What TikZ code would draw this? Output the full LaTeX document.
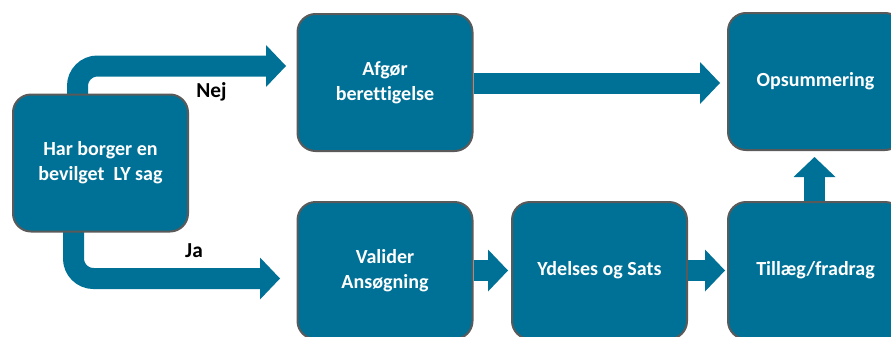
\documentclass[tikz,border=0pt]{standalone}
\usepackage{fontspec}
\setmainfont{Carlito}[Ligatures=NoCommon]
\usetikzlibrary{arrows.meta,calc}
\definecolor{teal}{RGB}{0,113,150}
\definecolor{rim}{RGB}{90,90,90}
\begin{document}
\begin{tikzpicture}[x=0.75pt,y=-0.75pt,
  stepbox/.style={draw=rim,line width=1.5pt,fill=teal,rounded corners=13.5pt,
    minimum width=131.25pt,minimum height=102.75pt,inner sep=0pt,align=center,
    text=white,font=\fontsize{15}{18.75}\selectfont\bfseries},
  flow/.style={draw=teal,line width=15.75pt,
    -{Triangle[width=31.5pt,length=15pt,line width=0pt]}},
  lbl/.style={font=\fontsize{16}{19}\selectfont\bfseries,text=black,inner sep=0pt,anchor=base}]
  \useasboundingbox (0,0) rectangle (891,336);
  \clip (0,0) rectangle (891,336);

  % connectors, drawn first so the boxes sit over their ends
  \coordinate (qN) at (77.5,94);
  \coordinate (qS) at (73.5,232);
  \coordinate (afgW) at (286,66);
  \coordinate (valW) at (280,278.5);
  \draw[flow,rounded corners=15pt] (qN) |- (afgW);
  \draw[flow,rounded corners=15pt] (qS) |- (valW);

  % boxes
  \node[stepbox] (q)   at (100.5,163)  {Har borger en\\bevilget\ \ LY sag};
  \node[stepbox] (afg) at (385,82.5)   {Afgør\\berettigelse};
  \node[stepbox] (val) at (385,270.5)  {Valider\\Ansøgning};
  \node[stepbox] (yd)  at (599.5,270.5){Ydelses og Sats};
  \node[stepbox] (til) at (815.5,270.5){Tillæg/fradrag};
  \node[stepbox] (ops) at (815.5,81.5) {Opsummering};

  \draw[flow] ($(afg.east)+(0,0.5)$) -- ($(ops.west)+(-7,1.5)$);
  \draw[flow] (val.east) -- ($(yd.west)+(-3,0)$);
  \draw[flow] (yd.east) -- ($(til.west)+(-2,0)$);
  \draw[flow] ($(til.north)+(-1,0)$) -- ($(ops.south)+(-1,6)$);

  % branch labels
  \node[lbl] (nej) at (211.5,97) {Nej};
  \node[lbl] (ja)  at (194,257)  {Ja};
\end{tikzpicture}
\end{document}
